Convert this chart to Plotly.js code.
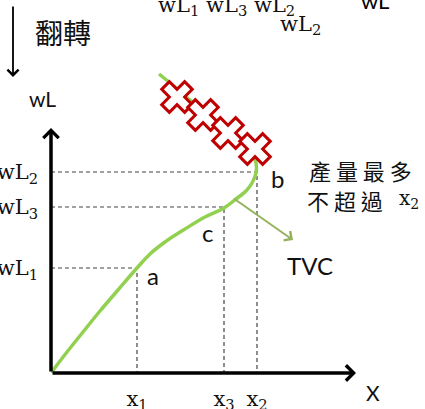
<!DOCTYPE html>
<html>
<head>
<meta charset="utf-8">
<script src="https://cdn.plot.ly/plotly-3.0.1.min.js"></script>
<style>html,body{margin:0;padding:0;background:#fff;overflow:hidden}</style>
</head>
<body>
<div id="chart" style="width:425px;height:409px"></div>
<script>
// Output levels x1, x3, x2 and the labour cost wL at points a, c, b
const pointNames = ['a', 'c', 'b'];
const outputLevels = [8.6, 17.3, 20.6];
const laborCosts = [10.5, 16.6, 20.1];
const outputTickText = ['x<sub>1</sub>', 'x<sub>3</sub>', 'x<sub>2</sub>'];
const costTickText = ['wL<sub>1</sub>', 'wL<sub>3</sub>', 'wL<sub>2</sub>'];

// TVC curve, bending back above b
const tvcOutput = [0, 1.6, 3.2, 4.9, 6.7, 8.6, 9.9, 11.4, 13.4, 15.4, 17.3, 18.5, 19.5, 20.1, 20.5, 20.5, 20.2, 19.7, 18.9, 17.9, 16.6, 15.4, 13.9, 12.4, 10.8];
const tvcCost = [0, 2.1, 4.1, 6.2, 8.3, 10.5, 11.9, 13.1, 14.4, 15.6, 16.5, 17.4, 18.2, 19.0, 20.0, 21.0, 21.8, 22.5, 23.3, 24.1, 25.1, 26.2, 27.3, 28.6, 29.9];

// Crossed-out, backward-bending part of the curve
const crossOutput = [12.6, 15.2, 17.7, 20.4];
const crossCost = [27.6, 25.8, 24.0, 22.4];

const X_MAX = 37.4, Y_MAX = 37.3;
const ink = '#111111';
const serif = 'DejaVu Serif, serif';
const sans = 'Lato, Liberation Sans, sans-serif';
const cjk = 'Noto Sans CJK TC, sans-serif';

// Dashed guides from each point down to the output axis and across to the cost axis
const guideTraces = outputLevels.map((q, i) => ({
  x: [0, q, q],
  y: [laborCosts[i], laborCosts[i], 0],
  mode: 'lines',
  line: {color: '#444', width: 1.2, dash: '4px,3px'},
  hoverinfo: 'skip',
  showlegend: false
}));

const tvcTrace = {
  x: tvcOutput,
  y: tvcCost,
  mode: 'lines',
  line: {color: '#92d050', width: 3.5, shape: 'spline', smoothing: 1},
  hoverinfo: 'skip',
  showlegend: false
};

const crossTrace = {
  x: crossOutput,
  y: crossCost,
  mode: 'markers',
  marker: {symbol: 'x', size: 27, color: '#ffffff', line: {color: '#c00000', width: 3}},
  hoverinfo: 'skip',
  showlegend: false,
  cliponaxis: false
};

// Point labels a, c, b placed beside their points
const labelShift = {a: [16, -7], c: [-17, -25], b: [20, -6]};
const pointAnnotations = pointNames.map((name, i) => ({
  x: outputLevels[i], y: laborCosts[i],
  xref: 'x', yref: 'y',
  text: name, showarrow: false,
  xshift: labelShift[name][0], yshift: labelShift[name][1],
  font: {family: sans, size: 24, color: ink}
}));

// Arrow between two points given in axis units
const arrow = (x, y, ax, ay, width, size, color) => ({
  x: x, y: y, ax: ax, ay: ay,
  xref: 'x', yref: 'y', axref: 'x', ayref: 'y',
  text: '', showarrow: true,
  arrowhead: 4, arrowsize: size, arrowwidth: width, arrowcolor: color
});

// Free text, positioned in axis units but referenced to the paper so it is
// still drawn outside the axis ranges
const textNote = (text, x, y, font, extra) => Object.assign({
  x: x / X_MAX, y: y / Y_MAX, xref: 'paper', yref: 'paper',
  xanchor: 'center', yanchor: 'middle',
  text: text, showarrow: false, font: font
}, extra || {});

const annotations = [
  // axes with arrowheads
  arrow(0, 24.5, 0, 0, 3.5, 0.85, '#000'),
  arrow(30.5, 0, 0, 0, 3.5, 0.85, '#000'),
  // "flip" arrow
  {x: -3.8 / X_MAX, y: 29.6 / Y_MAX, xref: 'paper', yref: 'paper',
   ax: 0, ay: -72, axref: 'pixel', ayref: 'pixel', text: '', showarrow: true,
   arrowhead: 4, arrowsize: 1.2, arrowwidth: 1.8, arrowcolor: '#000'},
  // pointer to the TVC label
  arrow(24.2, 13.3, 18.2, 17.5, 2, 1.1, '#93b35c'),
  textNote('TVC', 25.9, 10.8, {family: sans, size: 24, color: ink}),
  textNote('X', 32.2, -1.9, {family: sans, size: 21, color: ink}),
  textNote('wL', -0.9, 27.4, {family: sans, size: 21, color: ink}),
  textNote('翻轉', 1.2, 34.1, {family: cjk, size: 28, color: ink}),
  textNote('產 量 最 多', 30.9, 20.3, {family: cjk, size: 22, color: ink}),
  textNote('不 超 過', 29.4, 17.3, {family: cjk, size: 22, color: ink}),
  textNote('x<sub>2</sub>', 35.8, 17.4, {family: serif, size: 20, color: ink}),
  // flipped copies of the cost labels along the top
  textNote(costTickText.join(' '), 10.5, 36.7, {family: serif, size: 21, color: ink}, {xanchor: 'left'}),
  textNote(costTickText[2], 24.9, 34.8, {family: serif, size: 21, color: ink}),
  textNote('wL', 32.4, 37.2, {family: sans, size: 22, color: '#000'})
].concat(pointAnnotations);

const layout = {
  width: 425,
  height: 409,
  margin: {l: 51, r: 0, t: 0, b: 36},
  paper_bgcolor: '#ffffff',
  plot_bgcolor: '#ffffff',
  showlegend: false,
  xaxis: {
    range: [0, X_MAX],
    showgrid: false, zeroline: false, showline: false,
    tickmode: 'array', tickvals: outputLevels, ticktext: outputTickText,
    ticks: '', ticklabelstandoff: 11,
    tickfont: {family: serif, size: 21, color: ink}
  },
  yaxis: {
    range: [0, Y_MAX],
    showgrid: false, zeroline: false, showline: false,
    tickmode: 'array', tickvals: laborCosts, ticktext: costTickText,
    ticks: '', ticklabelstandoff: 12,
    tickfont: {family: serif, size: 21, color: ink}
  },
  annotations: annotations
};

Plotly.newPlot('chart', guideTraces.concat([tvcTrace, crossTrace]), layout, {staticPlot: true, displayModeBar: false});
</script>
</body>
</html>
